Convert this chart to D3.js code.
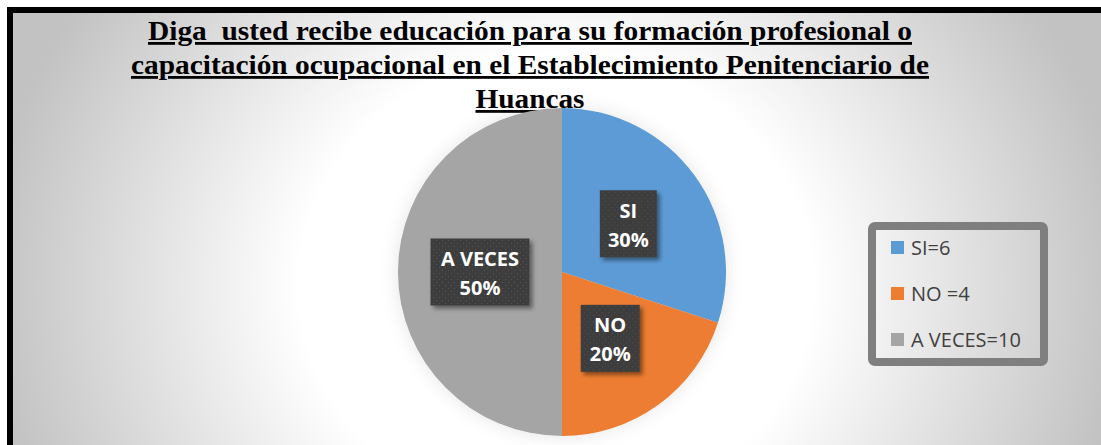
<!DOCTYPE html>
<html>
<head>
<meta charset="utf-8">
<script src="https://cdn.jsdelivr.net/npm/d3@7"></script>
<style>
  body { margin: 0; background: #fff; }
  svg { display: block; }
</style>
</head>
<body>
<script>
const W = 1101, H = 445

// chart data
const categories = ["SI", "NO", "A VECES"]
const values = [6, 4, 10]
const legendLabels = ["SI=6", "NO =4", "A VECES=10"]
const colors = ["#5b9bd5", "#ed7d31", "#a5a5a5"]
const titleLines = [
  "Diga  usted recibe educación para su formación profesional o",
  "capacitación ocupacional en el Establecimiento Penitenciario de",
  "Huancas"
]

const svg = d3.select("body").append("svg")
  .attr("width", W)
  .attr("height", H)

const defs = svg.append("defs")

const bg = defs.append("radialGradient")
  .attr("id", "bg")
  .attr("gradientUnits", "userSpaceOnUse")
  .attr("cx", 556).attr("cy", 285).attr("r", 570)
  .attr("gradientTransform", "translate(556,285) scale(1,0.9) translate(-556,-285)")
bg.append("stop").attr("offset", 0).attr("stop-color", "#ffffff")
bg.append("stop").attr("offset", 0.45).attr("stop-color", "#ffffff")
bg.append("stop").attr("offset", 1).attr("stop-color", "#c2c2c2")

// dotted dark fill used behind the data labels
const pat = defs.append("pattern")
  .attr("id", "dots")
  .attr("patternUnits", "userSpaceOnUse")
  .attr("width", 6).attr("height", 6)
pat.append("rect").attr("width", 6).attr("height", 6).attr("fill", "#3c3c3c")
pat.append("rect").attr("x", 1).attr("y", 1).attr("width", 1).attr("height", 1).attr("fill", "#555")
pat.append("rect").attr("x", 4).attr("y", 4).attr("width", 1).attr("height", 1).attr("fill", "#555")

const shadow = defs.append("filter").attr("id", "shadow")
  .attr("x", "-20%").attr("y", "-20%").attr("width", "150%").attr("height", "150%")
shadow.append("feDropShadow")
  .attr("dx", 3).attr("dy", 3).attr("stdDeviation", 2)
  .attr("flood-color", "#000").attr("flood-opacity", 0.45)

const glow = defs.append("filter").attr("id", "glow")
  .attr("x", "-20%").attr("y", "-20%").attr("width", "140%").attr("height", "140%")
glow.append("feDropShadow")
  .attr("dx", 0).attr("dy", 0).attr("stdDeviation", 9)
  .attr("flood-color", "#000").attr("flood-opacity", 0.1)

// chart area + thick black frame
svg.append("rect")
  .attr("x", 10).attr("y", 10)
  .attr("width", W + 20).attr("height", H + 20)
  .attr("fill", "url(#bg)")
  .attr("stroke", "#000")
  .attr("stroke-width", 6)

// title
const title = svg.append("text")
  .attr("text-anchor", "middle")
  .attr("font-family", "'Liberation Serif', 'Times New Roman', serif")
  .attr("font-weight", "bold")
  .attr("font-size", 28)
  .attr("fill", "#000")
  .style("text-decoration", "underline")
  .style("white-space", "pre")
const titleLens = [764, 798, 109]
titleLines.forEach((t, i) => {
  title.append("tspan")
    .attr("x", 530)
    .attr("y", 40 + i * 34)
    .attr("textLength", titleLens[i])
    .attr("lengthAdjust", "spacingAndGlyphs")
    .text(t)
})

// pie
const cx = 562, cy = 272, r = 164
const pie = d3.pie().sort(null).value(d => d)
const arcs = pie(values)
const arc = d3.arc().innerRadius(0).outerRadius(r)

const g = svg.append("g").attr("transform", `translate(${cx},${cy})`)
g.append("g").attr("filter", "url(#glow)")
  .selectAll("path")
  .data(arcs)
  .enter()
  .append("path")
  .attr("d", arc)
  .attr("fill", (d, i) => colors[i])

const pct = d3.format(".0%")
const total = d3.sum(values)
const boxW = [57, 59, 99]
const boxH = 67

const labels = g.selectAll("g.lbl")
  .data(arcs)
  .enter()
  .append("g")
  .attr("class", "lbl")
  .attr("transform", d => {
    const c = arc.centroid(d)
    return `translate(${c[0]},${c[1]})`
  })

labels.append("rect")
  .attr("x", (d, i) => -boxW[i] / 2)
  .attr("y", -boxH / 2)
  .attr("width", (d, i) => boxW[i])
  .attr("height", boxH)
  .attr("fill", "url(#dots)")
  .attr("filter", "url(#shadow)")

const lt = labels.append("text")
  .attr("text-anchor", "middle")
  .attr("font-family", "'Open Sans', sans-serif")
  .attr("font-weight", "bold")
  .attr("font-size", 20)
  .attr("fill", "#fff")
lt.append("tspan").attr("x", 0).attr("y", -6).text((d, i) => categories[i])
lt.append("tspan").attr("x", 0).attr("y", 23).text(d => pct(d.value / total))

// legend
const lg = svg.append("g").attr("transform", "translate(872,226)")
lg.append("rect")
  .attr("width", 172).attr("height", 136)
  .attr("rx", 3)
  .attr("fill", "none")
  .attr("stroke", "#7f7f7f")
  .attr("stroke-width", 8)

const items = lg.selectAll("g.item")
  .data(legendLabels)
  .enter()
  .append("g")
  .attr("class", "item")
  .attr("transform", (d, i) => `translate(19,${15 + i * 46})`)
items.append("rect")
  .attr("width", 13).attr("height", 13)
  .attr("fill", (d, i) => colors[i])
items.append("text")
  .attr("x", 20).attr("y", 14)
  .attr("font-family", "'Open Sans', sans-serif")
  .attr("font-size", 20)
  .attr("fill", "#404040")
  .text(d => d)
</script>
</body>
</html>
